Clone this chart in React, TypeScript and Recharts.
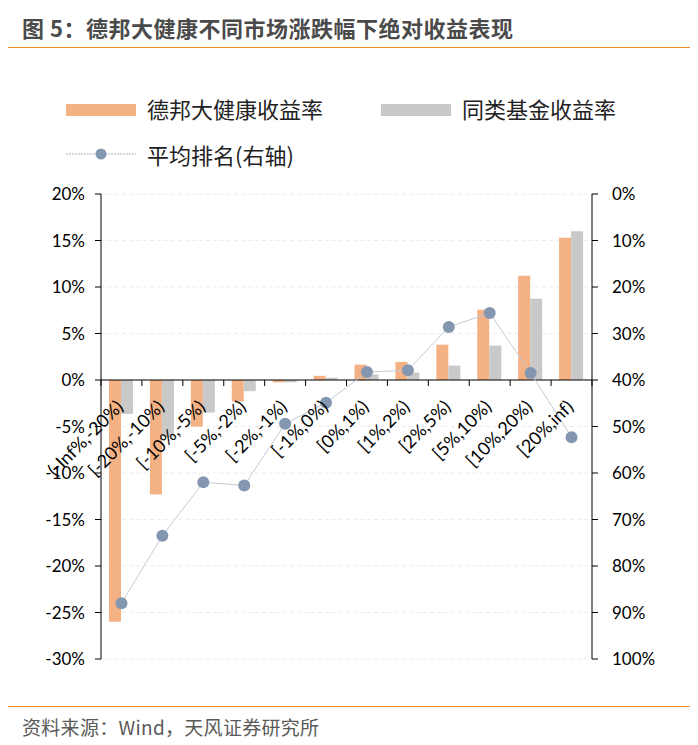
import React from 'react';
import { ComposedChart, Bar, Line, XAxis, YAxis, CartesianGrid, ReferenceLine } from 'recharts';

const categories = ['(-Inf%,-20%)', '[-20%,-10%)', '[-10%,-5%)', '[-5%,-2%)', '[-2%,-1%)', '[-1%,0%)', '[0%,1%)', '[1%,2%)', '[2%,5%)', '[5%,10%)', '[10%,20%)', '[20%,inf)'];
const fundReturn = [-26.0, -12.3, -5.0, -2.3, -0.25, 0.45, 1.65, 1.95, 3.8, 7.55, 11.2, 15.3];
const peerReturn = [-3.65, -6.1, -3.5, -1.2, -0.25, 0.25, 0.6, 0.8, 1.55, 3.7, 8.75, 16.0];
const avgRank = [88.0, 73.5, 62.0, 62.7, 49.4, 44.9, 38.3, 37.9, 28.6, 25.6, 38.5, 52.3];
const leftTicks = [-30, -25, -20, -15, -10, -5, 0, 5, 10, 15, 20];
const rightTicks = [0, 10, 20, 30, 40, 50, 60, 70, 80, 90, 100];

const data = categories.map((c, i) => ({ cat: c, fund: fundReturn[i], peer: peerReturn[i], rank: avgRank[i] }));

const W = 698;
const H = 745;
const PLOT_TOP = 194;
const PLOT_BOTTOM = 659;
const PLOT_LEFT = 101;
const PLOT_RIGHT = 592;
const X_AXIS_H = 30;
const Y_MIN = -30;
const Y_MAX = 20;
const zeroY = PLOT_TOP + (PLOT_BOTTOM - PLOT_TOP) * (Y_MAX / (Y_MAX - Y_MIN));
const band = (PLOT_RIGHT - PLOT_LEFT) / categories.length;

const ORANGE = '#F4B183';
const GRAY = '#C9C9C9';
const MARK = '#8497B0';
const LINE = '#C3CBD8';
const LATIN = 'Lato, "Noto Sans CJK SC", sans-serif';
const CJK = '"Noto Sans CJK SC", sans-serif';

const XTick = (props: any) => {
  const { x, payload, index } = props;
  const ax = x + 3;
  const ay = zeroY + 28;
  const left = x - band / 2;
  const right = x + band / 2;
  return (
    <g>
      <line x1={left} y1={zeroY} x2={left} y2={zeroY + 6} stroke="#000" strokeWidth={1} />
      {index === categories.length - 1 ? (
        <line x1={right} y1={zeroY} x2={right} y2={zeroY + 6} stroke="#000" strokeWidth={1} />
      ) : null}
      <text x={ax} y={ay} textAnchor="end" fontSize={18} fontFamily={LATIN} fill="#000" transform={`rotate(-45, ${ax}, ${ay})`}>
        {payload.value}
      </text>
    </g>
  );
};

export default function App() {
  return (
    <div style={{ position: 'relative', width: W, height: H, margin: '-8px 0 0 -8px', background: '#fff', overflow: 'hidden' }}>
      <div style={{ position: 'absolute', left: 22, top: 13, fontFamily: CJK, fontWeight: 'bold', fontSize: 22, letterSpacing: 0.5, color: '#4a4a4a', lineHeight: '28px', whiteSpace: 'nowrap' }}>
        图 5：德邦大健康不同市场涨跌幅下绝对收益表现
      </div>
      <div style={{ position: 'absolute', left: 5, top: 47, width: 688, height: 0, borderTop: '1.5px solid #F0892A' }} />

      <div style={{ position: 'absolute', left: 0, top: 0 }}>
        <ComposedChart
          width={W}
          height={H}
          data={data}
          margin={{ top: PLOT_TOP, bottom: H - PLOT_BOTTOM - X_AXIS_H, left: PLOT_LEFT - 60, right: W - PLOT_RIGHT - 60 }}
          barGap={0}
          barCategoryGap="20%"
        >
          <CartesianGrid yAxisId="left" horizontal vertical={false} stroke="#EDEDED" strokeDasharray="4 3" />
          <XAxis dataKey="cat" interval={0} height={X_AXIS_H} axisLine={false} tickLine={false} tick={<XTick />} />
          <YAxis
            yAxisId="left"
            width={60}
            domain={[Y_MIN, Y_MAX]}
            ticks={leftTicks}
            interval={0}
            tickFormatter={(v: number) => `${v}%`}
            axisLine={{ stroke: '#000' }}
            tickLine={{ stroke: '#000' }}
            tickSize={6}
            tickMargin={10}
            tick={{ fill: '#000', fontSize: 17, fontFamily: LATIN }}
          />
          <YAxis
            yAxisId="right"
            orientation="right"
            width={60}
            domain={[0, 100]}
            reversed
            ticks={rightTicks}
            interval={0}
            tickFormatter={(v: number) => `${v}%`}
            axisLine={{ stroke: '#000' }}
            tickLine={{ stroke: '#000' }}
            tickSize={6}
            tickMargin={14}
            tick={{ fill: '#000', fontSize: 17, fontFamily: LATIN, textAnchor: 'start' }}
          />
          <Bar yAxisId="left" dataKey="fund" fill={ORANGE} barSize={12} isAnimationActive={false} />
          <Bar yAxisId="left" dataKey="peer" fill={GRAY} barSize={12} isAnimationActive={false} />
          <ReferenceLine yAxisId="left" y={0} stroke="#000" strokeWidth={1} />
          <Line
            yAxisId="right"
            dataKey="rank"
            stroke={LINE}
            strokeWidth={1}
            dot={{ r: 6, fill: MARK, stroke: 'none' }}
            activeDot={false}
            isAnimationActive={false}
          />
        </ComposedChart>
      </div>

      {/* legend */}
      <div style={{ position: 'absolute', left: 66, top: 104, width: 70, height: 12, background: ORANGE }} />
      <div style={{ position: 'absolute', left: 147, top: 94, fontFamily: CJK, fontSize: 22, color: '#222', lineHeight: '28px', whiteSpace: 'nowrap' }}>德邦大健康收益率</div>
      <div style={{ position: 'absolute', left: 381, top: 104, width: 70, height: 12, background: GRAY }} />
      <div style={{ position: 'absolute', left: 462, top: 94, fontFamily: CJK, fontSize: 22, color: '#222', lineHeight: '28px', whiteSpace: 'nowrap' }}>同类基金收益率</div>
      <svg style={{ position: 'absolute', left: 60, top: 144 }} width={85} height={20}>
        <line x1={6} y1={10} x2={76} y2={10} stroke="#A7B1C2" strokeWidth={1} strokeDasharray="2 1" />
        <circle cx={41} cy={10} r={5.5} fill={MARK} />
      </svg>
      <div style={{ position: 'absolute', left: 147, top: 140, fontFamily: CJK, fontSize: 22, color: '#222', lineHeight: '28px', whiteSpace: 'nowrap' }}>平均排名(右轴)</div>

      <div style={{ position: 'absolute', left: 5, top: 706, width: 688, height: 0, borderTop: '1.5px solid #F0892A' }} />
      <div style={{ position: 'absolute', left: 22, top: 714, fontFamily: CJK, fontSize: 19, letterSpacing: 0.3, color: '#595959', lineHeight: '26px', whiteSpace: 'nowrap' }}>
        资料来源：Wind，天风证券研究所
      </div>
    </div>
  );
}
